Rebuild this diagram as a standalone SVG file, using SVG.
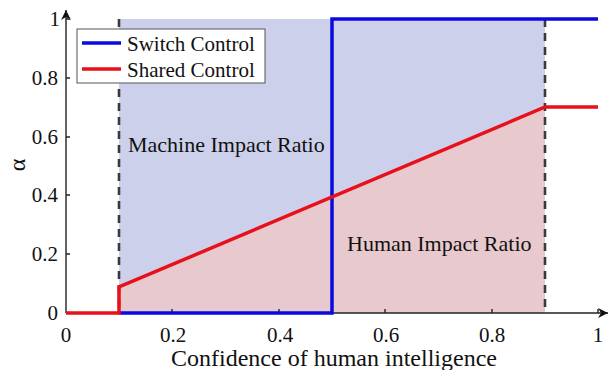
<svg xmlns="http://www.w3.org/2000/svg" width="610" height="370" viewBox="0 0 610 370">
<defs>
<style>
text{font-family:"Liberation Serif","Times New Roman",serif;fill:#111}
.tick{font-size:21px}
.ax{stroke:#222;stroke-width:1.4;fill:none}
.dash{stroke:#3a3a3a;stroke-width:2.6;stroke-dasharray:8,6;fill:none}
.blue{stroke:#0a0adf;stroke-width:3.5;fill:none}
.red{stroke:#e8101a;stroke-width:3.5;fill:none}
</style>
<marker id="arr" markerWidth="12" markerHeight="10" refX="10" refY="5" orient="auto" markerUnits="userSpaceOnUse">
<path d="M0,0 L10,5 L0,10 L3,5 Z" fill="#111"/>
</marker>
</defs>
<rect width="610" height="370" fill="#fff"/>
<g id="regions">
<rect x="119" y="19" width="426" height="294" fill="#cdd0ea"/>
<polygon points="119,313 119,287 545,107 545,313" fill="#e8c9cd"/>
</g>
<g id="axes">
<line class="ax" x1="66" y1="313" x2="66" y2="10" marker-end="url(#arr)"/>
<line class="ax" x1="66" y1="313" x2="608" y2="313" marker-end="url(#arr)"/>
<path class="ax" d="M66,254h4M66,195h4M66,137h4M66,78h4M66,19h4M172,313v-4M279,313v-4M385,313v-4M492,313v-4M598,313v-4" stroke-width="1"/>
<g class="tick" text-anchor="end">
<text x="58" y="320">0</text>
<text x="58" y="261">0.2</text>
<text x="58" y="202">0.4</text>
<text x="58" y="144">0.6</text>
<text x="58" y="85">0.8</text>
<text x="60" y="26">1</text>
</g>
<g class="tick" text-anchor="middle">
<text x="66" y="342">0</text>
<text x="173" y="342">0.2</text>
<text x="280" y="342">0.4</text>
<text x="386" y="342">0.6</text>
<text x="492" y="342">0.8</text>
<text x="598" y="342">1</text>
</g>
<text x="334" y="366" font-size="24" text-anchor="middle">Confidence of human intelligence</text>
<text x="0" y="0" font-size="24" text-anchor="middle" transform="translate(25,165) rotate(-90)">α</text>
</g>
<g id="connectors">
<line class="dash" x1="119" y1="19" x2="119" y2="313"/>
<line class="dash" x1="545" y1="19" x2="545" y2="313"/>
</g>
<g id="switch-control">
<polyline class="blue" points="119,313 332,313 332,19 598,19"/>
</g>
<g id="shared-control">
<polyline class="red" points="66,313 119,313 119,287 545,107 598,107"/>
</g>
<g id="labels">
<text x="128" y="152" font-size="22">Machine Impact Ratio</text>
<text x="347" y="251" font-size="22">Human Impact Ratio</text>
</g>
<g id="legend">
<rect x="77" y="29" width="188" height="54" fill="#fff" stroke="#555" stroke-width="1"/>
<line x1="82" y1="43" x2="121" y2="43" stroke="#0a0adf" stroke-width="3.5"/>
<line x1="82" y1="69" x2="121" y2="69" stroke="#e8101a" stroke-width="3.5"/>
<text x="127" y="51" font-size="21">Switch Control</text>
<text x="127" y="77" font-size="21">Shared Control</text>
</g>
</svg>
